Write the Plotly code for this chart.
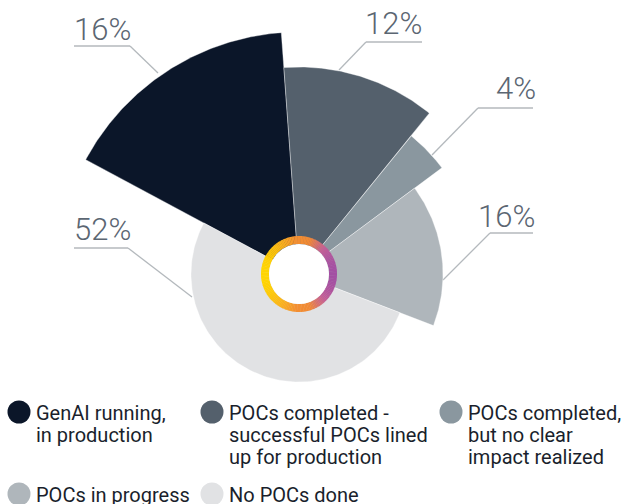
import numpy as np
import plotly.graph_objects as go

# ---- data -------------------------------------------------------------
categories = [
    "GenAI running,<br>in production",
    "POCs completed -<br>successful POCs lined<br>up for production",
    "POCs completed,<br>but no clear<br>impact realized",
    "POCs in progress",
    "No POCs done",
]
shares = [16, 12, 4, 16, 52]
share_labels = ["16%", "12%", "4%", "16%", "52%"]

# ---- style ------------------------------------------------------------
colors = ["#0b1629", "#54606c", "#8a979f", "#afb6bb", "#e1e2e4"]
slice_radius = [242, 207, 178, 144, 108]      # px
W, H = 625, 504
CX, CY = 299, 274                              # centre, px from top-left
START_DEG = -61.8                              # clockwise from 12 o'clock
LABEL_COLOR = "#5b6672"
LEADER_COLOR = "#b4b9bd"
TEXT_COLOR = "#1a1f2c"
LEGEND_LINE_GAP = 22                           # px between wrapped legend lines


def to_plot(px, py):
    """Pixel position (top-left origin) -> data coordinates (y up)."""
    return px, H - py


def polar_pt(r, deg):
    a = np.radians(deg)
    return CX + r * np.sin(a), CY - r * np.cos(a)


fig = go.Figure()

# ---- slices -----------------------------------------------------------
total = float(sum(shares))
a0 = START_DEG
for cat, val, col, rad in zip(categories, shares, colors, slice_radius):
    a1 = a0 + 360.0 * val / total
    angs = np.linspace(a0, a1, 120)
    xs = [CX] + [polar_pt(rad, a)[0] for a in angs] + [CX]
    ys = [CY] + [polar_pt(rad, a)[1] for a in angs] + [CY]
    px, py = to_plot(np.array(xs), np.array(ys))
    fig.add_trace(go.Scatter(
        x=px, y=py, fill="toself", fillcolor=col, mode="lines",
        line=dict(color="rgba(255,255,255,0.6)", width=0.6),
        hoverinfo="text", text=cat.replace("<br>", " "), showlegend=False,
    ))
    a0 = a1

# ---- gradient ring in the centre ----------------------------------------
stops = [(0.0, (255, 213, 0)), (0.3, (248, 170, 36)), (0.45, (243, 143, 50)),
         (0.65, (240, 138, 54)), (0.85, (196, 96, 150)), (1.0, (163, 79, 163))]


def grad(t):
    for (t0, c0), (t1, c1) in zip(stops[:-1], stops[1:]):
        if t <= t1:
            f = (t - t0) / (t1 - t0)
            return "rgb(%d,%d,%d)" % tuple(round(c0[i] + f * (c1[i] - c0[i])) for i in range(3))
    return "rgb(%d,%d,%d)" % stops[-1][1]


R_OUT, R_IN = 38, 30
n_seg = 144
shapes = []
for k in range(n_seg):
    b0 = 360.0 * k / n_seg
    b1 = 360.0 * (k + 1) / n_seg + 0.6
    mid = np.radians((b0 + b1) / 2)
    t = (np.sin(mid) + 1) / 2
    pts = []
    for a in np.linspace(b0, b1, 4):
        pts.append(to_plot(*polar_pt(R_OUT, a)))
    for a in np.linspace(b1, b0, 4):
        pts.append(to_plot(*polar_pt(R_IN, a)))
    path = "M " + " L ".join("%.2f,%.2f" % p for p in pts) + " Z"
    shapes.append(dict(type="path", path=path, fillcolor=grad(t),
                       line=dict(width=0), layer="above"))
cx, cy = to_plot(CX, CY)
shapes.append(dict(type="circle", x0=cx - R_IN, x1=cx + R_IN, y0=cy - R_IN, y1=cy + R_IN,
                   fillcolor="white", line=dict(width=0), layer="above"))

# ---- value labels with leader lines -------------------------------------
label_layout = [
    # (text left x, text middle y, leader polyline in px)
    (75, 29, [(74, 46), (130, 46), (158, 73)]),
    (366, 23, [(422, 42), (366, 42), (339, 70)]),
    (497, 88, [(533, 108), (478, 108), (432, 155)]),
    (479, 216, [(533, 233), (490, 233), (443, 280)]),
    (75, 229, [(74, 248), (128, 248), (192, 297)]),
]
annotations = []
for txt, (tx, ty, line) in zip(share_labels, label_layout):
    for (p0, p1) in zip(line[:-1], line[1:]):
        x0, y0 = to_plot(*p0)
        x1, y1 = to_plot(*p1)
        shapes.append(dict(type="line", x0=x0, y0=y0, x1=x1, y1=y1,
                           line=dict(color=LEADER_COLOR, width=1.3), layer="below"))
    ax, ay = to_plot(tx, ty)
    annotations.append(dict(x=ax, y=ay, text=txt, showarrow=False, xanchor="left",
                            yanchor="middle", xshift=-3,
                            font=dict(family="Roboto", size=31, color=LABEL_COLOR, weight=300)))

# ---- legend ---------------------------------------------------------------
legend_pos = [(19, 412), (212, 412), (451, 412), (19, 494), (212, 494)]
mx, my = zip(*[to_plot(x, y) for x, y in legend_pos])
fig.add_trace(go.Scatter(x=mx, y=my, mode="markers", hoverinfo="skip", showlegend=False,
                         marker=dict(size=23, color=colors, line=dict(width=0))))
for cat, (x, y) in zip(categories, legend_pos):
    for i, part in enumerate(cat.split("<br>")):
        ax, ay = to_plot(x + 15, y + 1 + i * LEGEND_LINE_GAP)
        annotations.append(dict(x=ax, y=ay, text=part, showarrow=False, xanchor="left",
                                yanchor="middle", align="left",
                                font=dict(family="Roboto", size=20, color=TEXT_COLOR)))

fig.update_layout(
    width=W, height=H, margin=dict(l=0, r=0, t=0, b=0),
    paper_bgcolor="white", plot_bgcolor="white",
    xaxis=dict(range=[0, W], visible=False, fixedrange=True),
    yaxis=dict(range=[0, H], visible=False, fixedrange=True),
    shapes=shapes, annotations=annotations, showlegend=False,
)

fig.write_html("out.html")
